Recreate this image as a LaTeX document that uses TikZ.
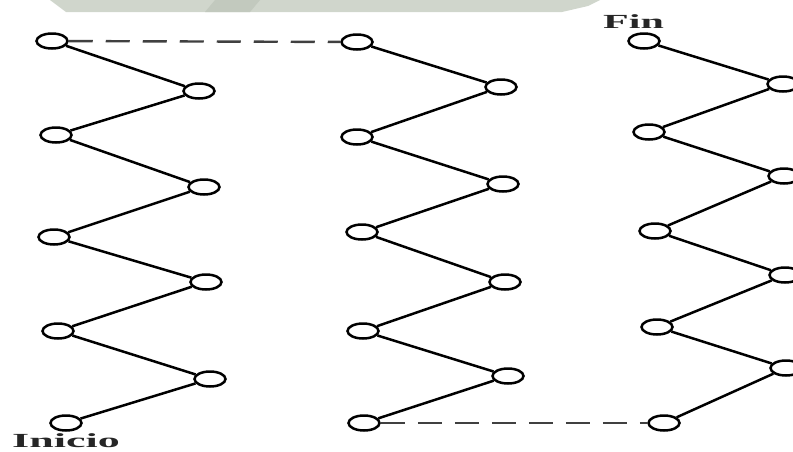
\documentclass[tikz,border=0pt]{standalone}
\usepackage{fontspec}
\setmainfont{Liberation Serif}
\usetikzlibrary{shapes.geometric}
\definecolor{wmark}{RGB}{208,214,204}
\definecolor{wmarkdark}{RGB}{194,201,190}
\tikzset{
  st/.style={ellipse,draw=black,line width=2.5pt,minimum width=31pt,minimum height=15pt,inner sep=0pt,fill=white},
  conn/.style={line width=2.5pt,black},
  dconn/.style={line width=2.4pt,black!75,dash pattern=on 24pt off 13pt},
  lbl/.style={inner sep=0pt,font=\fontsize{20}{24}\selectfont\bfseries,text=black!85}
}
\begin{document}
\begin{tikzpicture}[x=1pt,y=-1pt]
\useasboundingbox (0,0) rectangle (793,451);
\clip (0,0) rectangle (793,451);
% faint watermark band at top
\fill[wmark] (50,0) -- (600,0) -- (588,6) -- (562,12) -- (66,12) -- cycle;
\fill[wmarkdark] (215,0) -- (260,0) -- (250,12) -- (205,12) -- cycle;
% column 1
\node[st] (A1) at (52,41) {};
\node[st] (B1) at (199,91) {};
\node[st] (A2) at (56,135) {};
\node[st] (B2) at (204,187) {};
\node[st] (A3) at (54,237) {};
\node[st] (B3) at (206,282) {};
\node[st] (A4) at (58,331) {};
\node[st] (B4) at (210,379) {};
\node[st] (A5) at (66,423) {};
% column 2
\node[st] (C1) at (357,42) {};
\node[st] (D1) at (501,87) {};
\node[st] (C2) at (357,137) {};
\node[st] (D2) at (503,184) {};
\node[st] (C3) at (362,232) {};
\node[st] (D3) at (505,282) {};
\node[st] (C4) at (363,331) {};
\node[st] (D4) at (508,376) {};
\node[st] (C5) at (364,423) {};
% column 3
\node[st] (E1) at (644,41) {};
\node[st] (F1) at (783,84) {};
\node[st] (E2) at (649,132) {};
\node[st] (F2) at (784,176) {};
\node[st] (E3) at (655,231) {};
\node[st] (F3) at (785,275) {};
\node[st] (E4) at (657,327) {};
\node[st] (F4) at (786,368) {};
\node[st] (E5) at (664,423) {};
% zigzags
\draw[conn] (A1) -- (B1) -- (A2) -- (B2) -- (A3) -- (B3) -- (A4) -- (B4) -- (A5);
\draw[conn] (C1) -- (D1) -- (C2) -- (D2) -- (C3) -- (D3) -- (C4) -- (D4) -- (C5);
\draw[conn] (E1) -- (F1) -- (E2) -- (F2) -- (E3) -- (F3) -- (E4) -- (F4) -- (E5);
% dashed links
\draw[dconn] (A1) -- (C1);
\draw[dconn] (C5) -- (E5);
% labels
\node[lbl,anchor=base west] (fin) at (603,28) {\scalebox{2.1}[1]{Fin}};
\node[lbl,anchor=base west] (ini) at (12,447) {\scalebox{2.2}[1]{Inicio}};
\end{tikzpicture}
\end{document}
